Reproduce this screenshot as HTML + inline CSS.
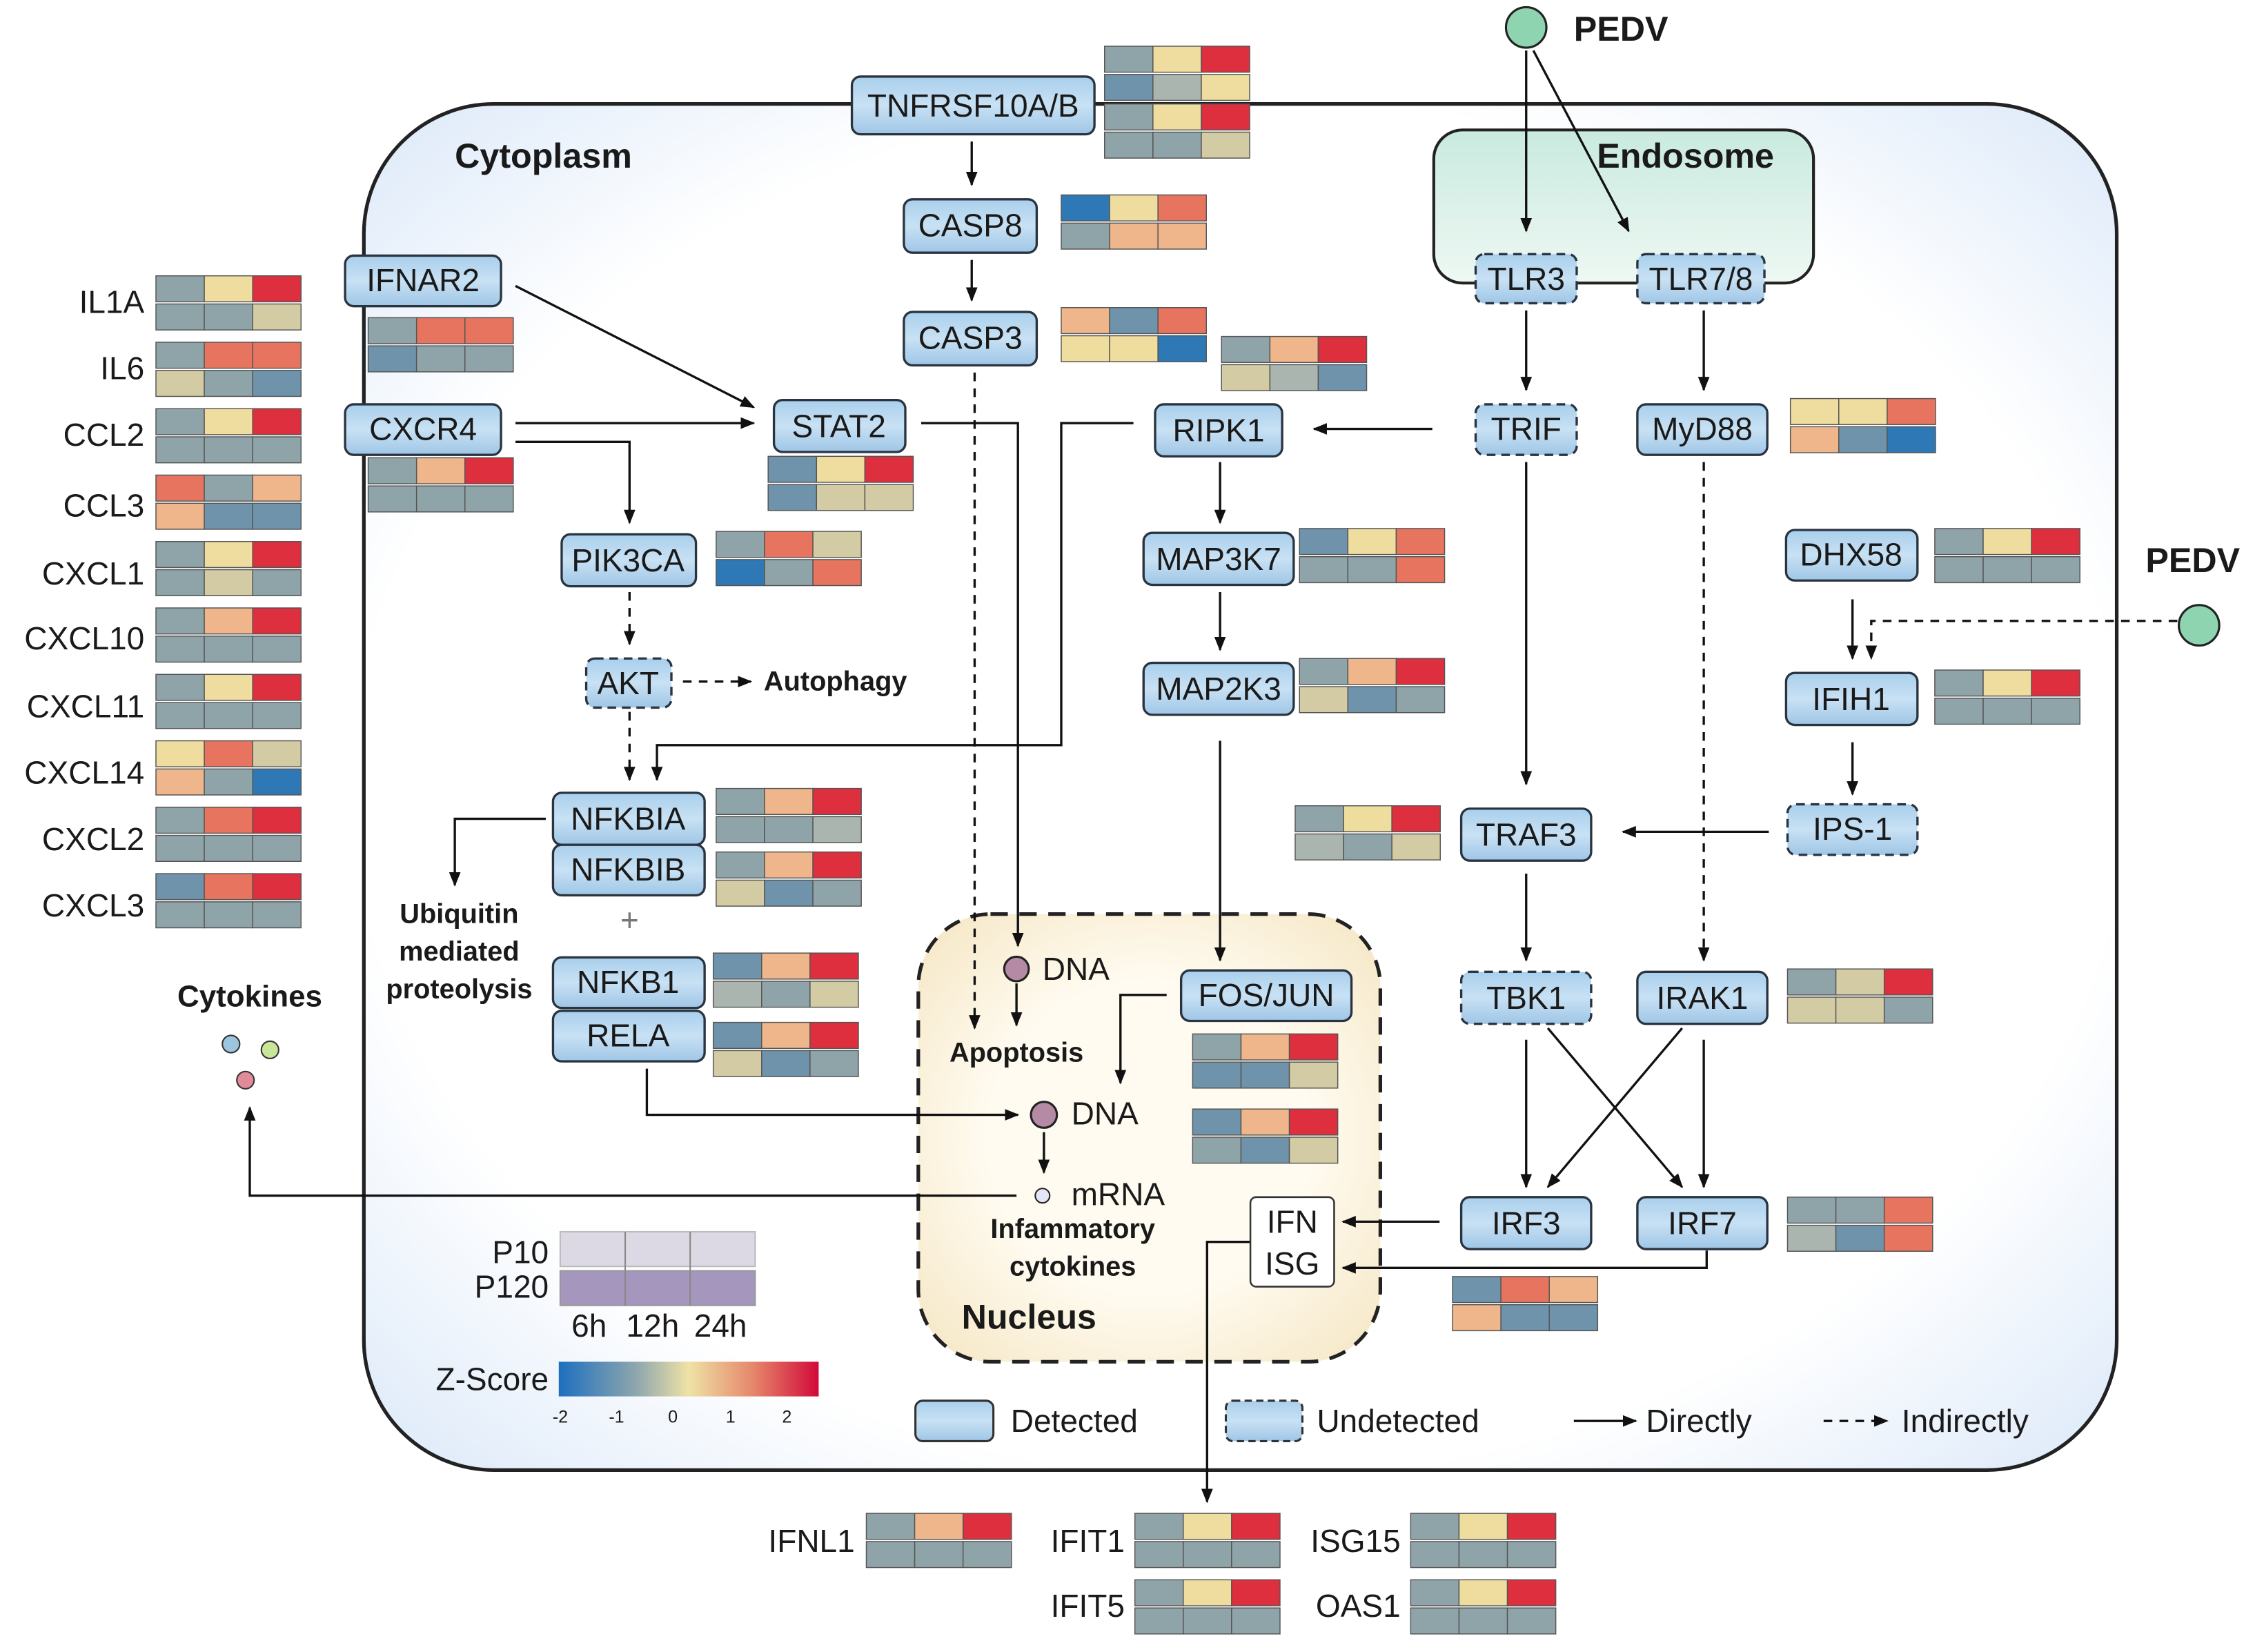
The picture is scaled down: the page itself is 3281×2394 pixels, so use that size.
<!DOCTYPE html>
<html><head><meta charset="utf-8"><style>
html,body{margin:0;padding:0;background:#fff;}
svg{display:block;}
text{font-family:"Liberation Sans",sans-serif;fill:#1a1a1a;}
.n{font-size:22px;text-anchor:middle;dominant-baseline:central;}
.g{font-size:22px;text-anchor:end;dominant-baseline:central;}
.b{font-weight:bold;}
</style></head><body>
<svg id="s" width="3281" height="2394" viewBox="0 0 1568 1144" preserveAspectRatio="none" xmlns="http://www.w3.org/2000/svg">
<defs>
<radialGradient id="cellg" cx="0.5" cy="0.5" r="0.72"><stop offset="0.7" stop-color="#ffffff"/><stop offset="1" stop-color="#d9e7f8"/></radialGradient>
<linearGradient id="endg" x1="0" y1="0" x2="0" y2="1"><stop offset="0" stop-color="#c9eadf"/><stop offset="1" stop-color="#eef8f3"/></linearGradient>
<radialGradient id="nucg" cx="0.5" cy="0.5" r="0.7"><stop offset="0.5" stop-color="#fffbf0"/><stop offset="1" stop-color="#f5e6c3"/></radialGradient>
<linearGradient id="nodeg" x1="0" y1="0" x2="0" y2="1"><stop offset="0" stop-color="#a9cfec"/><stop offset="0.5" stop-color="#c8e1f4"/><stop offset="1" stop-color="#9fc6e6"/></linearGradient>
<linearGradient id="zg" x1="0" y1="0" x2="1" y2="0"><stop offset="0" stop-color="#1d6fbf"/><stop offset="0.3" stop-color="#8fa7ad"/><stop offset="0.5" stop-color="#efe2a6"/><stop offset="0.75" stop-color="#e5866a"/><stop offset="1" stop-color="#d2093a"/></linearGradient>
<marker id="a" markerWidth="10" markerHeight="10" refX="9" refY="5" orient="auto" markerUnits="userSpaceOnUse"><path d="M0,1 L10,5 L0,9 Z" fill="#111"/></marker>
</defs>
<rect x="252" y="72" width="1214" height="946" rx="90" fill="url(#cellg)" stroke="#222" stroke-width="2.5"/>
<rect x="993" y="90" width="263" height="106" rx="20" fill="url(#endg)" stroke="#222" stroke-width="2"/>
<rect x="636" y="633" width="320" height="310" rx="50" fill="url(#nucg)" stroke="#222" stroke-width="2.5" stroke-dasharray="12,8"/>
<text x="315" y="108" font-size="24" class="b" dominant-baseline="central">Cytoplasm</text>
<text x="1106" y="108" font-size="24" class="b" dominant-baseline="central">Endosome</text>
<text x="666" y="912" font-size="24" class="b" dominant-baseline="central">Nucleus</text>
<g id="lines" stroke="#111" stroke-width="1.6" fill="none"></g>
<g id="heat"></g>
<g id="nodes"></g>
<circle cx="1057" cy="19" r="14" fill="#8fd4b0" stroke="#222" stroke-width="1.5"/>
<text x="1090" y="20" font-size="24" class="b" dominant-baseline="central">PEDV</text>
<circle cx="1523" cy="433" r="14" fill="#8fd4b0" stroke="#222" stroke-width="1.5"/>
<text x="1486" y="388" font-size="24" class="b" dominant-baseline="central">PEDV</text>
<text x="529" y="472" font-size="19" class="b" dominant-baseline="central">Autophagy</text>
<text x="318" y="633" font-size="19" class="b" text-anchor="middle" dominant-baseline="central">Ubiquitin</text>
<text x="318" y="659" font-size="19" class="b" text-anchor="middle" dominant-baseline="central">mediated</text>
<text x="318" y="685" font-size="19" class="b" text-anchor="middle" dominant-baseline="central">proteolysis</text>
<text x="436" y="637" font-size="22" text-anchor="middle" dominant-baseline="central" style="fill:#777">+</text>
<text x="173" y="690" font-size="21" class="b" text-anchor="middle" dominant-baseline="central">Cytokines</text>
<circle cx="160" cy="723" r="6" fill="#9cc6de" stroke="#333"/>
<circle cx="187" cy="727" r="6" fill="#c9e59a" stroke="#333"/>
<circle cx="170" cy="748" r="6" fill="#e08a9a" stroke="#333"/>
<circle cx="704" cy="671" r="8.5" fill="#b48aa4" stroke="#222" stroke-width="1.5"/>
<text x="722" y="671" font-size="22" dominant-baseline="central">DNA</text>
<text x="704" y="729" font-size="19" class="b" text-anchor="middle" dominant-baseline="central">Apoptosis</text>
<circle cx="723" cy="772" r="9" fill="#b48aa4" stroke="#222" stroke-width="1.5"/>
<text x="742" y="771" font-size="22" dominant-baseline="central">DNA</text>
<circle cx="722" cy="828" r="5" fill="#e4e6f8" stroke="#222"/>
<text x="742" y="827" font-size="22" dominant-baseline="central">mRNA</text>
<text x="743" y="851" font-size="19" class="b" text-anchor="middle" dominant-baseline="central">Infammatory</text>
<text x="743" y="877" font-size="19" class="b" text-anchor="middle" dominant-baseline="central">cytokines</text>
<rect x="866" y="829" width="58" height="62" rx="4" fill="#fff" stroke="#333" stroke-width="1.2"/>
<text x="895" y="846" class="n">IFN</text>
<text x="895" y="875" class="n">ISG</text>
<text x="100" y="209" class="g">IL1A</text>
<text x="100" y="255" class="g">IL6</text>
<text x="100" y="301" class="g">CCL2</text>
<text x="100" y="350" class="g">CCL3</text>
<text x="100" y="397" class="g">CXCL1</text>
<text x="100" y="442" class="g">CXCL10</text>
<text x="100" y="489" class="g">CXCL11</text>
<text x="100" y="535" class="g">CXCL14</text>
<text x="100" y="581" class="g">CXCL2</text>
<text x="100" y="627" class="g">CXCL3</text>
<text x="592" y="1067" class="g">IFNL1</text>
<text x="779" y="1067" class="g">IFIT1</text>
<text x="970" y="1067" class="g">ISG15</text>
<text x="779" y="1112" class="g">IFIT5</text>
<text x="970" y="1112" class="g">OAS1</text>
<rect x="388" y="853" width="135" height="24" fill="#dcd8e4" stroke="#bbb"/>
<rect x="388" y="880" width="135" height="24" fill="#a596bd" stroke="#999"/>
<line x1="433" y1="853" x2="433" y2="904" stroke="#888"/><line x1="478" y1="853" x2="478" y2="904" stroke="#888"/>
<text x="380" y="867" class="g">P10</text>
<text x="380" y="891" class="g">P120</text>
<text x="408" y="918" class="n">6h</text><text x="452" y="918" class="n">12h</text><text x="499" y="918" class="n">24h</text>
<rect x="387" y="943" width="180" height="24" fill="url(#zg)"/>
<text x="380" y="955" class="g">Z-Score</text>
<g font-size="12" text-anchor="middle"><text x="388" y="985">-2</text><text x="427" y="985">-1</text><text x="466" y="985">0</text><text x="506" y="985">1</text><text x="545" y="985">2</text></g>
<rect x="634" y="970" width="54" height="28" rx="5" fill="url(#nodeg)" stroke="#333" stroke-width="1.5"/>
<text x="700" y="984" font-size="22" dominant-baseline="central">Detected</text>
<rect x="849" y="970" width="53" height="28" rx="5" fill="url(#nodeg)" stroke="#333" stroke-width="1.5" stroke-dasharray="5,3"/>
<text x="912" y="984" font-size="22" dominant-baseline="central">Undetected</text>
<line x1="1090" y1="984" x2="1133" y2="984" stroke="#111" stroke-width="1.6" marker-end="url(#a)"/>
<text x="1140" y="984" font-size="22" dominant-baseline="central">Directly</text>
<line x1="1263" y1="984" x2="1307" y2="984" stroke="#111" stroke-width="1.6" stroke-dasharray="6,5" marker-end="url(#a)"/>
<text x="1317" y="984" font-size="22" dominant-baseline="central">Indirectly</text>
<g id="nl">
<text x="674" y="73" class="n">TNFRSF10A/B</text>
<text x="672" y="156" class="n">CASP8</text>
<text x="672" y="234" class="n">CASP3</text>
<text x="293" y="194" class="n">IFNAR2</text>
<text x="293" y="297" class="n">CXCR4</text>
<text x="581" y="295" class="n">STAT2</text>
<text x="435" y="388" class="n">PIK3CA</text>
<text x="435" y="473" class="n">AKT</text>
<text x="435" y="567" class="n">NFKBIA</text>
<text x="435" y="602" class="n">NFKBIB</text>
<text x="435" y="680" class="n">NFKB1</text>
<text x="435" y="717" class="n">RELA</text>
<text x="844" y="298" class="n">RIPK1</text>
<text x="844" y="387" class="n">MAP3K7</text>
<text x="844" y="477" class="n">MAP2K3</text>
<text x="1057" y="193" class="n">TLR3</text>
<text x="1178" y="193" class="n">TLR7/8</text>
<text x="1057" y="297" class="n">TRIF</text>
<text x="1179" y="297" class="n">MyD88</text>
<text x="1282" y="384" class="n">DHX58</text>
<text x="1282" y="484" class="n">IFIH1</text>
<text x="1283" y="574" class="n">IPS-1</text>
<text x="1057" y="578" class="n">TRAF3</text>
<text x="1057" y="691" class="n">TBK1</text>
<text x="1179" y="691" class="n">IRAK1</text>
<text x="1057" y="847" class="n">IRF3</text>
<text x="1179" y="847" class="n">IRF7</text>
<text x="877" y="689" class="n">FOS/JUN</text>
</g>
</svg>
<script>
var NS="http://www.w3.org/2000/svg",s=document.getElementById('s');
function el(p,t,a){var e=document.createElementNS(NS,t);for(var k in a)e.setAttribute(k,a[k]);p.appendChild(e);return e;}
var C={G:'#8fa4a8',B:'#6e93ab',Y:'#efdd9f',O:'#eeb68a',R:'#dd2f3d',T:'#d3cba3',L:'#e6745e',D:'#2f78b6',K:'#a9b5ae'};
var H=[[765,32,'GYR','BKY'],[765,72,'GYR','GGT'],[735,135,'DYL','GOO'],[735,213,'OBL','YYD'],[846,233,'GOR','TKB'],
[108,191,'GYR','GGT'],[108,237,'GLL','TGB'],[108,283,'GYR','GGG'],[108,329,'LGO','OBB'],[108,375,'GYR','GTG'],[108,421,'GOR','GGG'],[108,467,'GYR','GGG'],[108,513,'YLT','OGD'],[108,559,'GLR','GGG'],[108,605,'BLR','GGG'],
[255,220,'GLL','BGG'],[255,317,'GOR','GGG'],[532,316,'BYR','BTT'],[496,368,'GLT','DGL'],[900,366,'BYL','GGL'],[900,456,'GOR','TBG'],[1240,276,'YYL','OBD'],[1340,366,'GYR','GGG'],[1340,464,'GYR','GGG'],[897,558,'GYR','KGT'],
[496,546,'GOR','GGK'],[496,590,'GOR','TBG'],[494,660,'BOR','KGT'],[494,708,'BOR','TBG'],[826,716,'GOR','BBT'],[826,768,'BOR','GBT'],[1238,671,'GTR','TTG'],[1238,829,'GGL','KBL'],[1006,884,'BLO','OBB'],
[600,1048,'GOR','GGG'],[786,1048,'GYR','GGG'],[977,1048,'GYR','GGG'],[786,1094,'GYR','GGG'],[977,1094,'GYR','GGG']];
var hg=document.getElementById('heat');
H.forEach(function(h){for(var r=0;r<2;r++)for(var c=0;c<3;c++)el(hg,'rect',{x:h[0]+c*33.5,y:h[1]+r*19.5,width:33.5,height:18,fill:C[h[2+r][c]],stroke:'#555','stroke-width':0.7});});
var N=[[590,53,168,40,0],[626,138,92,37,0],[626,216,92,37,0],[239,177,108,35,0],[239,280,108,35,0],[536,277,91,36,0],[389,370,93,36,0],[406,456,59,34,1],
[383,549,105,36,0],[383,585,105,35,0],[383,663,105,35,0],[383,700,105,35,0],[800,280,88,36,0],[792,369,104,36,0],[792,459,104,36,0],
[1022,176,70,34,1],[1134,176,88,34,1],[1022,280,70,35,1],[1134,280,90,35,0],[1237,367,91,35,0],[1237,466,91,36,0],[1238,557,90,35,1],
[1012,560,90,36,0],[1012,673,90,36,1],[1134,673,90,36,0],[1012,829,90,36,0],[1134,829,90,36,0],[818,672,118,35,0]];
var ng=document.getElementById('nodes');
N.forEach(function(n){var a={x:n[0],y:n[1],width:n[2],height:n[3],rx:6,fill:'url(#nodeg)',stroke:'#2a3440','stroke-width':1.6};if(n[4])a['stroke-dasharray']='6,4';el(ng,'rect',a);});
var lg=document.getElementById('lines');
var L=[
[[673,98,673,128],1],[[673,180,673,208],1],[[675,258,675,712],1,1],
[[638,293,705,293,705,655],1],[[357,198,522,282],1],[[357,293,522,293],1],[[357,306,436,306,436,362],1],
[[436,410,436,446],1,1],[[473,472,520,472],1,1],[[436,493,436,540],1,1],
[[785,293,735,293,735,516,455,516,455,540],1],[[992,297,910,297],1],
[[845,320,845,362],1],[[845,410,845,450],1],[[845,513,845,665],1],
[[1057,35,1057,160],1],[[1062,35,1128,160],1],[[1057,215,1057,270],1],[[1180,215,1180,270],1],
[[1057,320,1057,543],1],[[1180,320,1180,665],1,1],[[1508,430,1296,430,1296,456],1,1],[[1283,415,1283,456],1],
[[1283,514,1283,550],1],[[1225,576,1124,576],1],[[1057,605,1057,665],1],
[[1057,720,1057,822],1],[[1072,712,1165,822],1],[[1165,712,1072,822],1],[[1180,720,1180,822],1],
[[997,846,930,846],1],[[1182,866,1182,878,930,878],1],[[866,860,836,860,836,1040],1],
[[378,567,315,567,315,613],1],[[448,740,448,772,705,772],1],[[704,681,704,710],1],[[808,689,776,689,776,750],1],
[[723,784,723,812],1],[[704,828,173,828,173,767],1]];
L.forEach(function(l){var p=l[0],d='M'+p[0]+','+p[1];for(var i=2;i<p.length;i+=2)d+=' L'+p[i]+','+p[i+1];var a={d:d};if(l[1])a['marker-end']='url(#a)';if(l[2])a['stroke-dasharray']='6,5';el(lg,'path',a);});
</script>
</body></html>
